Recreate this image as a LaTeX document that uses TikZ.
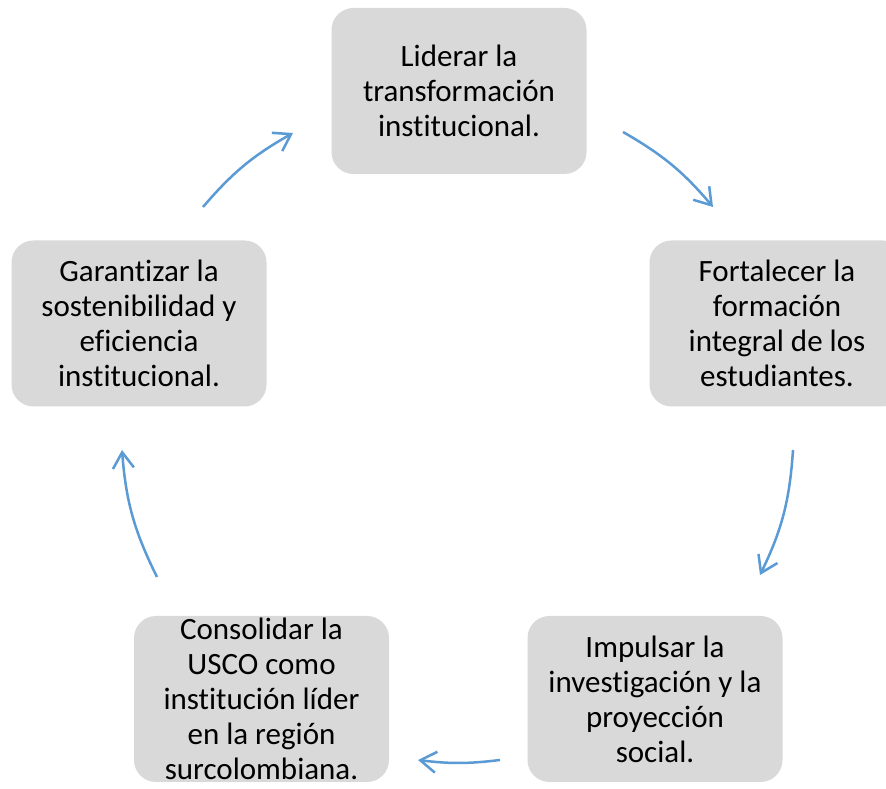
\documentclass[tikz,border=0pt]{standalone}
\usepackage{fontspec}
\setmainfont{Carlito}[Ligatures=CommonOff]
\usetikzlibrary{arrows.meta}
\definecolor{boxgray}{HTML}{D9D9D9}
\definecolor{arrblue}{HTML}{5B9BD5}
\tikzset{
  cyclebox/.style={draw=none, fill=boxgray, rounded corners=22pt, minimum width=255pt, minimum height=166pt, inner sep=0pt, align=center, font=\fontsize{31}{35}\selectfont, text=black},
  cyclearrow/.style={draw=arrblue, line width=2.5pt, -{Straight Barb[length=16pt,width=21pt]}}
}
\begin{document}
\begin{tikzpicture}[x=1pt,y=1pt]
\clip (0,0) rectangle (886,789);
\fill[white] (0,0) rectangle (886,789);
\node[cyclebox] (n1) at (459,698) {Liderar la\\transformación\\institucional.};
\node[cyclebox] (n2) at (777,465.5) {Fortalecer la\\formación\\integral de los\\estudiantes.};
\node[cyclebox] (n3) at (655,90) {Impulsar la\\investigación y la\\proyección\\social.};
\node[cyclebox] (n4) at (261.5,90) {Consolidar la\\USCO como\\institución líder\\en la región\\surcolombiana.};
\node[cyclebox] (n5) at (139,465.5) {Garantizar la\\sostenibilidad y\\eficiencia\\institucional.};
\coordinate (a1s) at (203,582);
\coordinate (a1e) at (293,656);
\coordinate (a2s) at (623,657);
\coordinate (a2e) at (713,582);
\coordinate (a3s) at (793,339);
\coordinate (a3e) at (760,214);
\coordinate (a4s) at (500,29);
\coordinate (a4e) at (418,29);
\coordinate (a5s) at (157,212);
\coordinate (a5e) at (122,339);
\draw[cyclearrow] (a1s) to[bend left=10] (a1e);
\draw[cyclearrow] (a2s) to[bend left=10] (a2e);
\draw[cyclearrow] (a3s) to[bend left=11] (a3e);
\draw[cyclearrow] (a4s) to[bend left=7] (a4e);
\draw[cyclearrow] (a5s) to[bend left=11] (a5e);
\end{tikzpicture}
\end{document}
